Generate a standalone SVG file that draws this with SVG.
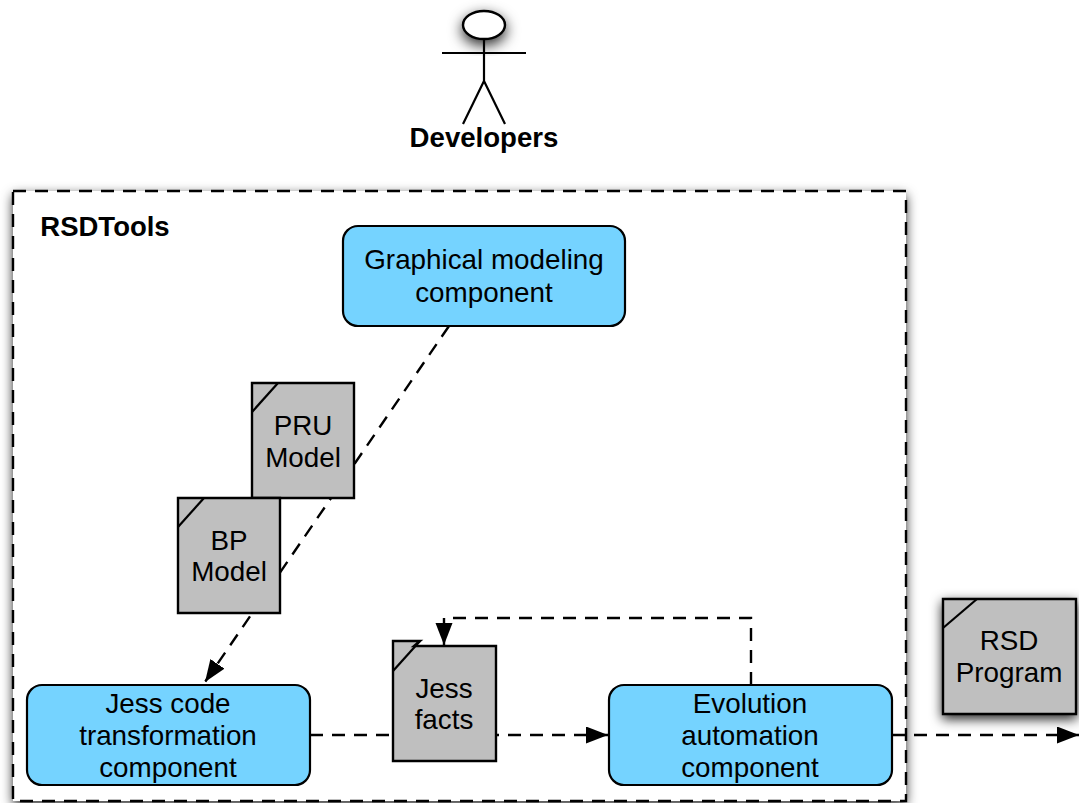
<svg xmlns="http://www.w3.org/2000/svg" width="1079" height="803" viewBox="0 0 1079 803">
<style>
text{font-family:"Liberation Sans",Arial,sans-serif;font-size:27.8px;fill:#000;text-anchor:middle}
.b{font-weight:bold}
.comp{fill:#75d3ff;stroke:#000;stroke-width:2.2}
.doc{fill:#bfbfbf;stroke:#000;stroke-width:2.4}
.con{fill:none;stroke:#000;stroke-width:2.4;stroke-dasharray:13 9}
.line{fill:none;stroke:#000;stroke-width:2.2}
</style>
<defs>
<filter id="sh" x="-30%" y="-30%" width="160%" height="160%"><feDropShadow dx="0" dy="4" stdDeviation="6" flood-color="#000" flood-opacity=".85"/></filter>
<filter id="sh2" x="-60%" y="-60%" width="220%" height="220%"><feDropShadow dx="0" dy="5" stdDeviation="7" flood-color="#000" flood-opacity=".85"/></filter>
<marker id="arr" markerUnits="userSpaceOnUse" markerWidth="24" markerHeight="18" refX="22" refY="8.5" orient="auto"><path d="M0 0L22 8.5L0 17Z" fill="#000"/></marker>
</defs>
<g id="rsdtools">
<rect x="13" y="191" width="893" height="610" fill="#fff" filter="url(#sh)"/>
<rect x="13" y="191" width="893" height="610" fill="none" stroke="#000" stroke-width="2.4" stroke-dasharray="13 9"/>
<text class="b" x="105" y="236" style="font-size:27.5px">RSDTools</text>
</g>
<g id="developers">
<ellipse cx="484" cy="25" rx="21" ry="14" fill="#fff" stroke="#000" stroke-width="2.4" filter="url(#sh2)"/>
<path class="line" d="M484 39V81M442 53H526M484 81L463 124M484 81L505 124"/>
<text class="b" x="484" y="147" style="font-size:27.6px">Developers</text>
</g>
<g id="connectors">
<path class="con" d="M449 326L205 682" marker-end="url(#arr)"/>
<path class="con" d="M310 735H608" marker-end="url(#arr)"/>
<path class="con" d="M751 685V618H444V645" marker-end="url(#arr)"/>
<path class="con" d="M892 735H1079" marker-end="url(#arr)"/>
</g>
<g id="graphical-modeling">
<rect class="comp" x="343" y="226" width="282" height="100" rx="15"/>
<text x="484" y="269">Graphical modeling</text><text x="484" y="302">component</text>
</g>
<g id="pru-model">
<path class="doc" d="M252 383H354V498H252Z"/><path class="line" d="M252 412L278 383"/>
<text x="303" y="435">PRU</text><text x="303" y="467">Model</text>
</g>
<g id="bp-model">
<path class="doc" d="M178 498H280V613H178Z"/><path class="line" d="M178 527L204 498"/>
<text x="229" y="550">BP</text><text x="229" y="581">Model</text>
</g>
<g id="jess-transformation">
<rect class="comp" x="27" y="685" width="283" height="100" rx="15"/>
<text x="168" y="713">Jess code</text><text x="168" y="745">transformation</text><text x="168" y="777">component</text>
</g>
<g id="jess-facts">
<path class="doc" d="M393 641H420L414 646H496V761H393Z"/><path class="line" d="M393 671L420 641"/>
<text x="444" y="698">Jess</text><text x="444" y="729">facts</text>
</g>
<g id="evolution-automation">
<rect class="comp" x="609" y="685" width="283" height="100" rx="15"/>
<text x="750" y="713">Evolution</text><text x="750" y="745">automation</text><text x="750" y="777">component</text>
</g>
<g id="rsd-program">
<path class="doc" d="M943 599H1076V714H943Z" filter="url(#sh)"/><path class="line" d="M943 628L977 599"/>
<text x="1009" y="650">RSD</text><text x="1009" y="682">Program</text>
</g>
</svg>
